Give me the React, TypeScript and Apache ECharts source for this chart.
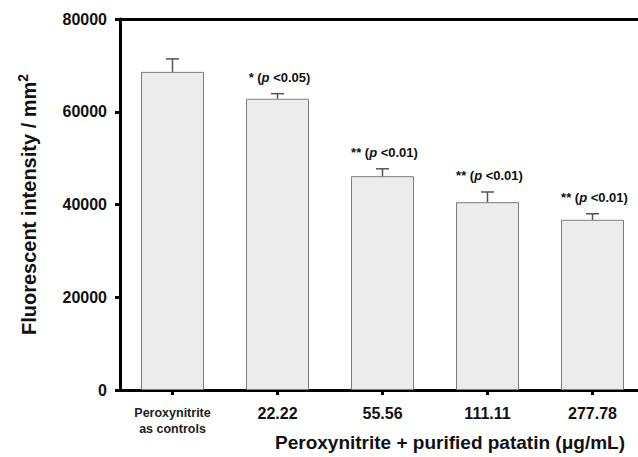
import React, { useEffect, useRef } from "react";
import * as echarts from "echarts";

const categories = ["Peroxynitrite\nas controls", "22.22", "55.56", "111.11", "277.78"];
const means = [68600, 62800, 46100, 40500, 36700];
const errors = [2800, 1100, 1600, 2200, 1300];
const stars = ["", "*", "**", "**", "**"];
const pThresholds = ["", "0.05", "0.01", "0.01", "0.01"];
const yTicks = [0, 20000, 40000, 60000, 80000];

const FONT = "'Liberation Sans', Arial, Helvetica, sans-serif";

export default function App() {
  const ref = useRef<HTMLDivElement>(null);
  useEffect(() => {
    if (!ref.current) return;
    document.body.style.margin = "0";
    document.body.style.overflow = "hidden";
    document.documentElement.style.overflow = "hidden";
    const chart = echarts.init(ref.current, undefined, { renderer: "svg" });
    const errData = means.map((m, i) => [i, m, m + errors[i]]);
    chart.setOption({
      animation: false,
      backgroundColor: "#ffffff",
      textStyle: { fontFamily: FONT },
      grid: {
        left: 120,
        top: 19,
        width: 525,
        height: 371,
        outerBoundsMode: "none",
        containLabel: false,
      },
      xAxis: [
        {
          type: "category",
          data: categories,
          position: "bottom",
          axisLine: { lineStyle: { color: "#000", width: 3 } },
          axisTick: { show: true, alignWithLabel: true, interval: 0, length: 5, lineStyle: { color: "#000", width: 3 } },
          axisLabel: {
            interval: 0,
            hideOverlap: false,
            margin: 15,
            color: "#111",
            fontFamily: FONT,
            fontSize: 16,
            fontWeight: "bold",
            formatter: (v: string) => {
              if (v.indexOf("\n") >= 0) {
                return v.split("\n").map((s) => "{s|" + s + "}").join("\n");
              }
              return v;
            },
            rich: {
              s: { fontSize: 12.5, fontWeight: "bold", fontFamily: FONT, color: "#222", lineHeight: 16 },
            },
          },
        },
        {
          type: "category",
          data: categories,
          position: "top",
          axisLine: { show: true, lineStyle: { color: "#000", width: 3 } },
          axisTick: { show: false },
          axisLabel: { show: false },
        },
      ],
      yAxis: {
        type: "value",
        min: 0,
        max: 80000,
        interval: 20000,
        splitLine: { show: false },
        axisLine: { show: true, lineStyle: { color: "#000", width: 3 } },
        axisTick: { show: true, length: 5, lineStyle: { color: "#000", width: 3 } },
        axisLabel: {
          margin: 13,
          color: "#111",
          fontFamily: FONT,
          fontSize: 16,
          fontWeight: "bold",
          formatter: (v: number) => (yTicks.indexOf(v) >= 0 ? String(v) : ""),
        },
        name: "{a|Fluorescent intensity / mm}{s|2}",
        nameLocation: "middle",
        nameRotate: 90,
        nameGap: 78,
        nameTextStyle: {
          rich: {
            a: { fontSize: 20, fontWeight: "bold", fontFamily: FONT, color: "#111", lineHeight: 26 },
            s: { fontSize: 14, fontWeight: "bold", fontFamily: FONT, color: "#111", verticalAlign: "top", lineHeight: 14 },
          },
        },
      },
      graphic: [
        {
          type: "text",
          x: 450,
          y: 442,
          style: {
            text: "Peroxynitrite + purified patatin (\u03bcg/mL)",
            font: "bold 19px " + FONT,
            fill: "#111",
            textAlign: "center",
            textVerticalAlign: "middle",
          },
        },
      ],
      series: [
        {
          type: "bar",
          data: means,
          barWidth: 63,
          itemStyle: { color: "#ececec", borderColor: "#7d7d7d", borderWidth: 1 },
          silent: true,
        },
        {
          type: "custom",
          data: errData,
          silent: true,
          z: 5,
          renderItem: (params: any, api: any) => {
            const idx = api.value(0);
            const lo = api.coord([idx, api.value(1)]);
            const hi = api.coord([idx, api.value(2)]);
            const cap = 6.5;
            const children: any[] = [
              {
                type: "line",
                shape: { x1: lo[0], y1: lo[1], x2: hi[0], y2: hi[1] },
                style: { stroke: "#555", lineWidth: 1.5 },
              },
              {
                type: "line",
                shape: { x1: hi[0] - cap, y1: hi[1], x2: hi[0] + cap, y2: hi[1] },
                style: { stroke: "#555", lineWidth: 1.5 },
              },
            ];
            const i = params.dataIndex;
            if (stars[i]) {
              children.push({
                type: "text",
                x: hi[0] + 2,
                y: hi[1] - 16,
                style: {
                  text: "{a|" + stars[i] + " (}{p|p}{a| <" + pThresholds[i] + ")}",
                  textAlign: "center",
                  textVerticalAlign: "middle",
                  rich: {
                    a: { fontSize: 13, fontWeight: "bold", fontFamily: FONT, fill: "#111" },
                    p: { fontSize: 13, fontWeight: "bold", fontStyle: "italic", fontFamily: FONT, fill: "#111" },
                  },
                },
              });
            }
            return { type: "group", children };
          },
        },
      ],
    });
    return () => chart.dispose();
  }, []);
  return (
    <div
      ref={ref}
      style={{ position: "fixed", left: 0, top: 0, width: 660, height: 457, background: "#fff" }}
    />
  );
}
